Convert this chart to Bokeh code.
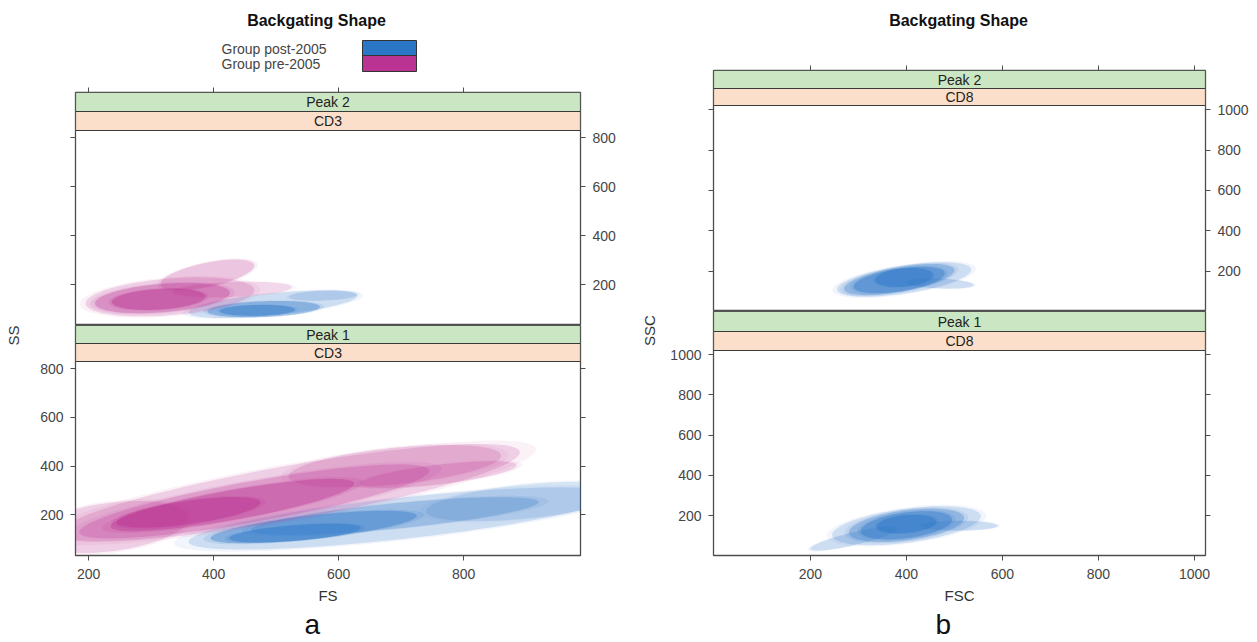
import numpy as np
from bokeh.plotting import figure
from bokeh.models import Range1d, LinearAxis, FixedTicker, Title
from bokeh.layouts import row, column
from bokeh.embed import file_html
from bokeh.resources import INLINE
from bokeh.core.properties import value

FONT = "Liberation Sans"

TITLE = "Backgating Shape"
GROUPS = ["Group post-2005", "Group pre-2005"]
GROUP_COLORS = ["#2c76c8", "#bb3392"]
PEAKS = ["Peak 2", "Peak 1"]
MARKER_A = "CD3"
MARKER_B = "CD8"
STRIP_COLORS = ["#cbe6c3", "#fbdfca"]

TICKS_A = [200, 400, 600, 800]
TICKS_B = [200, 400, 600, 800, 1000]
X_RANGE_A = (179, 987)
Y_RANGE_A = (33, 829)
X_RANGE_B = (-2, 1023)
Y_RANGE_B = (2, 1020)

# density contour levels: (centre x, centre y, half-length in x, slope, half-thickness in y, alpha)
A_PEAK2_POST = [(495, 120, 135, 0.25, 45, 0.18), (575, 155, 55, 0.10, 20, 0.15),
                (480, 100, 90, 0.10, 32, 0.35), (470, 95, 60, 0.05, 22, 0.40)]
A_PEAK2_PRE = [(330, 150, 135, 0.20, 75, 0.18), (390, 240, 75, 0.50, 50, 0.22),
               (430, 180, 95, 0.10, 30, 0.15), (318, 145, 108, 0.20, 58, 0.32),
               (312, 140, 75, 0.15, 42, 0.42)]
A_PEAK1_POST = [(700, 185, 340, 0.28, 85, 0.18), (900, 255, 160, 0.25, 70, 0.15),
                (690, 195, 230, 0.25, 52, 0.25), (560, 150, 165, 0.28, 48, 0.38),
                (530, 125, 105, 0.20, 32, 0.42)]
A_PEAK1_PRE = [(520, 290, 370, 0.45, 112, 0.18), (235, 150, 125, 0.30, 100, 0.18),
               (690, 400, 170, 0.25, 75, 0.18), (760, 365, 125, 0.30, 40, 0.18),
               (465, 255, 280, 0.45, 85, 0.25), (430, 240, 195, 0.45, 62, 0.38),
               (360, 210, 115, 0.35, 48, 0.42)]
B_PEAK2_POST = [(395, 160, 140, 0.35, 70, 0.18), (470, 140, 70, -0.10, 24, 0.18),
                (385, 160, 115, 0.40, 62, 0.30), (385, 158, 95, 0.35, 56, 0.40),
                (395, 170, 60, 0.20, 45, 0.42)]
B_PEAK1_POST = [(290, 85, 90, 0.55, 32, 0.18), (400, 150, 155, 0.30, 85, 0.18),
                (510, 150, 80, 0.00, 24, 0.18), (400, 152, 120, 0.30, 75, 0.30),
                (400, 152, 95, 0.30, 64, 0.40), (400, 158, 62, 0.20, 44, 0.42)]

TEXT_GREY = "#454545"
FRAME = "#4d4d4d"


def contour(cx, cy, ax, slope, by, grow=1.0, n=90):
    t = np.linspace(0, 2 * np.pi, n)
    xs = cx + grow * ax * np.cos(t)
    ys = cy + slope * grow * ax * np.cos(t) + grow * by * np.sin(t)
    return list(xs), list(ys)


def blank(width, height, xr, yr):
    p = figure(width=width, height=height, x_range=Range1d(*xr),
               y_range=Range1d(*yr), output_backend="svg",
               toolbar_location=None, x_axis_location=None, y_axis_location=None,
               min_border=0)
    p.outline_line_color = None
    p.grid.visible = False
    return p


def add_axis(p, place, ticks, labelled, label=None):
    ax = LinearAxis(ticker=FixedTicker(ticks=ticks))
    ax.axis_line_color = None
    ax.major_tick_out = 5
    ax.major_tick_in = 0
    ax.major_tick_line_color = FRAME
    ax.minor_tick_line_color = None
    ax.major_label_text_font = FONT
    ax.major_label_text_font_size = "14px"
    ax.major_label_text_color = TEXT_GREY
    ax.major_label_standoff = 7 if place in ("left", "right") else 8
    if not labelled:
        ax.major_label_overrides = {t: "" for t in ticks}
    if label:
        ax.axis_label = label
        ax.axis_label_text_font = FONT
        ax.axis_label_text_font_size = "15px"
        ax.axis_label_text_font_style = "normal"
        ax.axis_label_text_color = "#333333"
        ax.axis_label_standoff = 5
    p.add_layout(ax, place)


def panel(width, frame_h, borders, xr, yr, strips, texts, ticks, levels,
          top_ticks, bottom_label, left_labels, right_labels, letter=None):
    bl, br, bt, bb = borders
    s1, s2 = strips
    panel_px = frame_h - s1 - s2
    y0, y1 = yr
    y_end = y1 + (s1 + s2) * (y1 - y0) / panel_px
    p = figure(width=width, height=frame_h + bt + bb, x_range=Range1d(*xr),
               y_range=Range1d(y0, y_end), output_backend="svg",
               toolbar_location=None, x_axis_location=None, y_axis_location=None,
               min_border_left=bl, min_border_right=br, min_border_top=bt,
               min_border_bottom=bb)
    p.extra_y_ranges = {"px": Range1d(0, frame_h)}
    p.grid.visible = False
    p.outline_line_color = FRAME
    p.outline_line_width = 1.3
    p.background_fill_color = "white"

    for group_levels, color in levels:
        for (cx, cy, ax, slope, by, alpha) in group_levels:
            # faint rim softens the edge of each level
            xs, ys = contour(cx, cy, ax, slope, by, grow=1.07)
            p.patch(xs, ys, fill_color=color, fill_alpha=alpha * 0.35, line_color=None)
            xs, ys = contour(cx, cy, ax, slope, by)
            p.patch(xs, ys, fill_color=color, fill_alpha=alpha, line_color=None)

    tops = [frame_h, frame_h - s1]
    bottoms = [frame_h - s1, frame_h - s1 - s2]
    p.quad(left=[xr[0]] * 2, right=[xr[1]] * 2, top=tops, bottom=bottoms,
           fill_color=STRIP_COLORS, line_color="#3a3a3a", line_width=1.2,
           y_range_name="px")
    p.text(x=[(xr[0] + xr[1]) / 2] * 2, y=[(a + b) / 2 for a, b in zip(tops, bottoms)],
           text=texts, text_font=value(FONT), text_font_size="14px",
           text_color="#222222", text_align="center", text_baseline="middle",
           y_range_name="px")

    add_axis(p, "left", ticks, left_labels)
    add_axis(p, "right", ticks, right_labels)
    if top_ticks:
        add_axis(p, "above", ticks, False)
    if bottom_label:
        add_axis(p, "below", ticks, True, bottom_label)
    if letter:
        text, shift = letter
        p.add_layout(Title(text=text, align="left", offset=shift, standoff=0,
                           text_font=FONT, text_font_size="28px",
                           text_font_style="normal", text_color="#111111"), "below")
    return p


# ---- sub-figure a (frame spans page x 75..580) ----
ylab_a = blank(30, 642, (0, 30), (642, 0))
ylab_a.text(x=[13], y=[335], text=["SS"], angle=np.pi / 2, text_font=value(FONT),
            text_font_size="15px", text_color="#333333", text_align="center",
            text_baseline="middle")

head_a = blank(610, 80, (75, 580), (80, 0))
head_a.text(x=[316], y=[20], text=[TITLE], text_font=value(FONT), text_font_style="bold",
            text_font_size="16px", text_color="#111111", text_align="center",
            text_baseline="middle")
head_a.text(x=[221, 221], y=[48, 63], text=GROUPS, text_font=value(FONT),
            text_font_size="14px", text_color=TEXT_GREY, text_align="left",
            text_baseline="middle")
head_a.quad(left=[362, 362], right=[416, 416], top=[40, 55], bottom=[55, 71],
            fill_color=GROUP_COLORS, line_color="#333333", line_width=1)

top_a = panel(610, 233, (45, 60, 12, 0), X_RANGE_A, Y_RANGE_A, (19, 19),
              [PEAKS[0], MARKER_A], TICKS_A,
              [(A_PEAK2_POST, GROUP_COLORS[0]), (A_PEAK2_PRE, GROUP_COLORS[1])],
              True, None, False, True)
bot_a = panel(610, 230, (45, 60, 0, 87), X_RANGE_A, Y_RANGE_A, (18, 18),
              [PEAKS[1], MARKER_A], TICKS_A,
              [(A_PEAK1_POST, GROUP_COLORS[0]), (A_PEAK1_PRE, GROUP_COLORS[1])],
              False, "FS", True, False, letter=("a", 229))

# ---- sub-figure b (frame spans page x 713..1205) ----
ylab_b = blank(25, 642, (640, 665), (642, 0))
ylab_b.text(x=[649], y=[330], text=["SSC"], angle=np.pi / 2, text_font=value(FONT),
            text_font_size="15px", text_color="#333333", text_align="center",
            text_baseline="middle")

head_b = blank(592, 58, (713, 1205), (58, 0))
head_b.text(x=[958], y=[20], text=[TITLE], text_font=value(FONT), text_font_style="bold",
            text_font_size="16px", text_color="#111111", text_align="center",
            text_baseline="middle")

top_b = panel(592, 241, (48, 52, 12, 0), X_RANGE_B, Y_RANGE_B, (18, 17),
              [PEAKS[0], MARKER_B], TICKS_B,
              [(B_PEAK2_POST, GROUP_COLORS[0])],
              True, None, False, True)
bot_b = panel(592, 244, (48, 52, 0, 87), X_RANGE_B, Y_RANGE_B, (20, 19),
              [PEAKS[1], MARKER_B], TICKS_B,
              [(B_PEAK1_POST, GROUP_COLORS[0])],
              False, "FSC", True, False, letter=("b", 222))

layout = row(
    ylab_a, column(head_a, top_a, bot_a),
    ylab_b, column(head_b, top_b, bot_b),
)

open("out.html", "w").write(file_html(layout, INLINE))
